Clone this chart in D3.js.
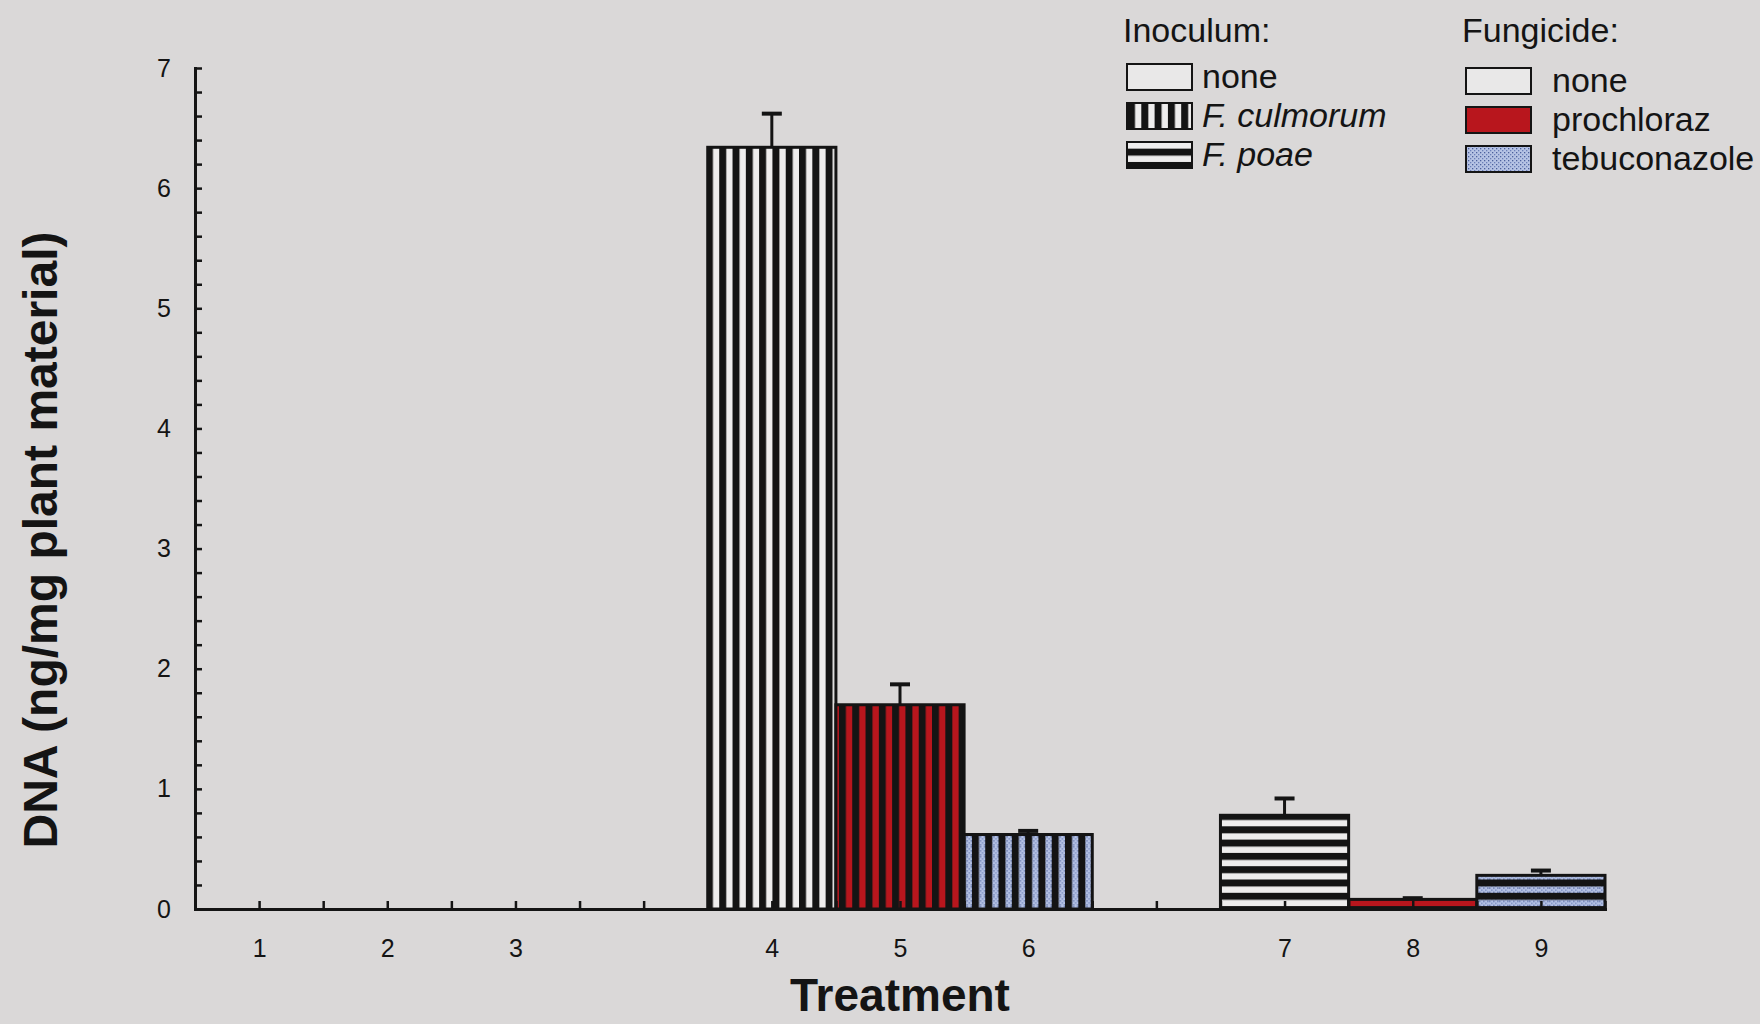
<!DOCTYPE html>
<html>
<head>
<meta charset="utf-8">
<script src="https://cdn.jsdelivr.net/npm/d3@7"></script>
<style>
  html, body { margin: 0; padding: 0; background: #dad8d8; }
  svg { display: block; font-family: "Liberation Sans", Arial, Helvetica, sans-serif; }
</style>
</head>
<body>
<svg id="chart" width="1760" height="1024"></svg>
<script>
// Fungal DNA per treatment: inoculum x fungicide
const treatments = ["1", "2", "3", "4", "5", "6", "7", "8", "9"];
const inoculum   = ["none", "none", "none", "culmorum", "culmorum", "culmorum", "poae", "poae", "poae"];
const fungicide  = ["none", "prochloraz", "tebuconazole", "none", "prochloraz", "tebuconazole", "none", "prochloraz", "tebuconazole"];
const dnaMean    = [0, 0, 0, 6.34, 1.70, 0.62, 0.78, 0.08, 0.28];
const dnaSE      = [0, 0, 0, 0.28, 0.17, 0.03, 0.14, 0.01, 0.04];

// x slots: three groups of three, separated by an empty slot
const slots = ["1", "2", "3", "gap-a", "4", "5", "6", "gap-b", "7", "8", "9"];
const yMajorTicks = [0, 1, 2, 3, 4, 5, 6, 7];

const inoculumLegend  = [
  { key: "none", label: "none", italic: false },
  { key: "culmorum", label: "F. culmorum", italic: true },
  { key: "poae", label: "F. poae", italic: true }
];
const fungicideLegend = [
  { key: "none", label: "none" },
  { key: "prochloraz", label: "prochloraz" },
  { key: "tebuconazole", label: "tebuconazole" }
];

const svg = d3.select("#chart");
const ink = "#141414";

const x = d3.scaleBand().domain(slots).range([195, 1605]).padding(0);
const xUnits = d3.scaleLinear().domain([0, slots.length]).range(x.range());
const y = d3.scaleLinear().domain([0, 7]).range([909, 68]);

// ---------- fills ----------
const defs = svg.append("defs");
const baseFill = { none: "#eeeded", prochloraz: "#b8161d", tebuconazole: "url(#dots)" };

const dots = defs.append("pattern").attr("id", "dots")
  .attr("patternUnits", "userSpaceOnUse").attr("width", 4).attr("height", 4);
dots.append("rect").attr("width", 4).attr("height", 4).attr("fill", "#b6c3e4");
dots.append("rect").attr("x", 0).attr("y", 0).attr("width", 1.3).attr("height", 1.3).attr("fill", "#4c609c");
dots.append("rect").attr("x", 2).attr("y", 2).attr("width", 1.3).attr("height", 1.3).attr("fill", "#6b7fb8");

const stripe = 13.3;
const stripeInk = 7;
const stripeX0 = x("4") + 11.5;   // phase of the vertical stripes
const stripeY0 = y(0) - 82.7;     // phase of the horizontal stripes

function stripePattern(id, inoc, fung, ox, oy) {
  if (inoc === "none") return;
  const vertical = inoc === "culmorum";
  const p = defs.append("pattern").attr("id", id)
    .attr("patternUnits", "userSpaceOnUse")
    .attr("x", ox).attr("y", oy)
    .attr("width", vertical ? stripe : 10)
    .attr("height", vertical ? 10 : stripe);
  p.append("rect").attr("width", vertical ? stripe : 10).attr("height", vertical ? 10 : stripe)
    .attr("fill", baseFill[fung]);
  p.append("rect")
    .attr("width", vertical ? stripeInk : 10)
    .attr("height", vertical ? 10 : stripeInk)
    .attr("fill", ink);
}

function fillFor(inoc, fung, prefix) {
  return inoc === "none" ? baseFill[fung] : `url(#${prefix}-${inoc}-${fung})`;
}

["culmorum", "poae"].forEach(inoc => {
  ["none", "prochloraz", "tebuconazole"].forEach(fung => {
    stripePattern(`bar-${inoc}-${fung}`, inoc, fung, stripeX0, stripeY0);
  });
});

// ---------- bars ----------
const data = treatments.map((t, i) => ({
  t, inoc: inoculum[i], fung: fungicide[i], mean: dnaMean[i], se: dnaSE[i]
}));

svg.append("g").selectAll("rect").data(data).join("rect")
  .attr("x", d => x(d.t))
  .attr("y", d => y(d.mean))
  .attr("width", x.bandwidth())
  .attr("height", d => y(0) - y(d.mean))
  .attr("fill", d => fillFor(d.inoc, d.fung, "bar"))
  .attr("stroke", ink)
  .attr("stroke-width", 3);

// ---------- error bars (upper only) ----------
const eb = svg.append("g").attr("stroke", ink).selectAll("g")
  .data(data.filter(d => d.se > 0)).join("g");
eb.append("line")
  .attr("x1", d => x(d.t) + x.bandwidth() / 2).attr("x2", d => x(d.t) + x.bandwidth() / 2)
  .attr("y1", d => y(d.mean)).attr("y2", d => y(d.mean + d.se))
  .attr("stroke-width", 3);
eb.append("line")
  .attr("x1", d => x(d.t) + x.bandwidth() / 2 - 10).attr("x2", d => x(d.t) + x.bandwidth() / 2 + 10)
  .attr("y1", d => y(d.mean + d.se)).attr("y2", d => y(d.mean + d.se))
  .attr("stroke-width", 4);

// ---------- axes ----------
const yAxis = d3.axisLeft(y)
  .tickValues(d3.range(36).map(i => i / 5))
  .tickSizeInner(-7).tickSizeOuter(0).tickPadding(24)
  .tickFormat(d => yMajorTicks.includes(d) ? String(d) : "");
const gy = svg.append("g").attr("transform", `translate(${x.range()[0]},0)`).call(yAxis);

const xAxis = d3.axisBottom(xUnits)
  .tickValues(d3.range(1, 2 * slots.length + 1).map(i => i / 2))
  .tickSizeInner(-8).tickSizeOuter(0).tickPadding(30)
  .tickFormat(d => {
    const k = d - 0.5;
    return Number.isInteger(k) && treatments.includes(slots[k]) ? slots[k] : "";
  });
const gx = svg.append("g").attr("transform", `translate(0,${y(0)})`).call(xAxis);

[gx, gy].forEach(g => {
  g.attr("font-size", 25).attr("font-family", "'Liberation Sans', Arial, sans-serif");
  g.select(".domain").attr("stroke", ink).attr("stroke-width", 3).attr("stroke-linecap", "square");
  g.selectAll(".tick line").attr("stroke", ink).attr("stroke-width", 2.5);
  g.selectAll(".tick text").attr("fill", ink).attr("font-size", 25);
});

// ---------- axis titles ----------
svg.append("text")
  .attr("x", (x.range()[0] + x.range()[1]) / 2).attr("y", 1011)
  .attr("text-anchor", "middle").attr("font-weight", "bold").attr("font-size", 46)
  .attr("fill", ink).text("Treatment");

svg.append("text")
  .attr("transform", "translate(57,540) rotate(-90)")
  .attr("text-anchor", "middle").attr("font-weight", "bold").attr("font-size", 48)
  .attr("fill", ink).text("DNA (ng/mg plant material)");

// ---------- legends ----------
const boxW = 65, boxH = 26, rowStep = 39, fontSize = 34;

function legend(title, items, left, top, textX, kind) {
  const g = svg.append("g");
  g.append("text").attr("x", left - 4).attr("y", 42)
    .attr("font-size", fontSize).attr("fill", ink).text(title);
  items.forEach((it, i) => {
    const by = top + i * rowStep;
    let fill;
    if (kind === "inoc") {
      const pid = `leg-${it.key}`;
      if (it.key === "culmorum") stripePattern(pid, "culmorum", "none", left + 1, by);
      if (it.key === "poae") stripePattern(pid, "poae", "none", left, by + stripe / 2);
      fill = it.key === "none" ? "#e9e8e8" : `url(#${pid})`;
    } else {
      fill = it.key === "none" ? "#e9e8e8" : baseFill[it.key];
    }
    g.append("rect").attr("x", left).attr("y", by).attr("width", boxW).attr("height", boxH)
      .attr("fill", fill).attr("stroke", ink).attr("stroke-width", 2);
    g.append("text").attr("x", textX).attr("y", by + boxH / 2 + 11)
      .attr("font-size", fontSize).attr("fill", ink)
      .attr("font-style", it.italic ? "italic" : "normal")
      .text(it.label);
  });
}

legend("Inoculum:", inoculumLegend, 1127, 64, 1202, "inoc");
legend("Fungicide:", fungicideLegend, 1466, 68, 1552, "fung");
</script>
</body>
</html>
